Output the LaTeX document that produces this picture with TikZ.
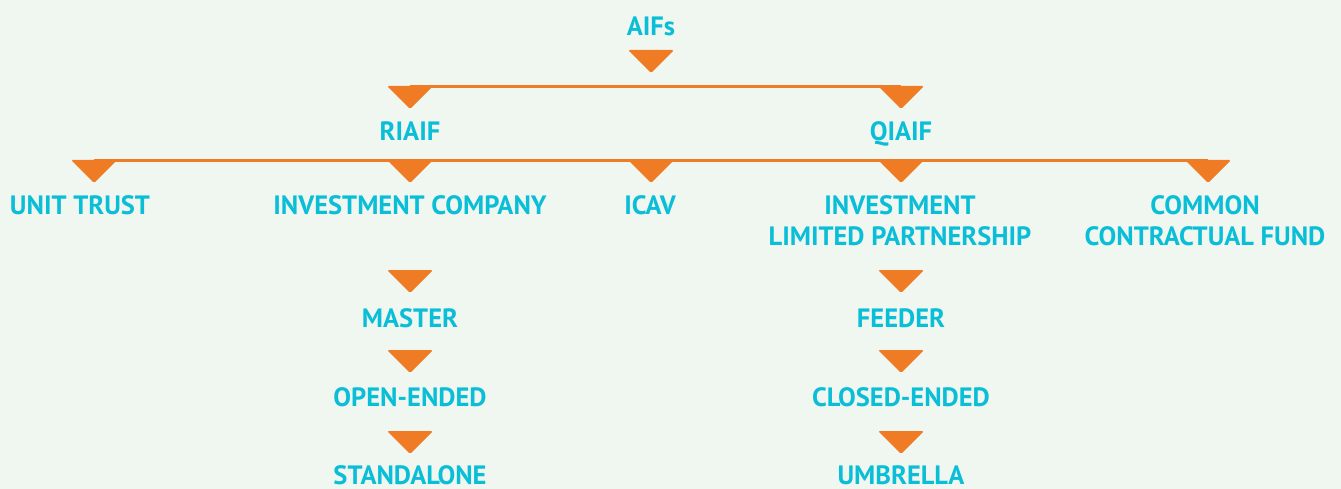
\documentclass[tikz,border=0pt]{standalone}
\usepackage{fontspec}
\setmainfont{PT Sans}
\definecolor{bgc}{HTML}{F0F7F1}
\definecolor{org}{HTML}{F07B25}
\definecolor{cyn}{HTML}{0BBED7}
\begin{document}
\begin{tikzpicture}[x=1pt,y=-1pt,
  lbl/.style={inner sep=0pt, text=cyn, font=\bfseries\fontsize{26.5}{31}\selectfont, align=center},
  conn/.style={draw=org, line width=3pt},
  tri/.style={fill=org, rounded corners=1.5pt}]
\fill[bgc] (0,0) rectangle (1341,489);
\useasboundingbox (0,0) rectangle (1341,489);
\newcommand\tri[2]{\fill[tri] (#1-23,#2) -- (#1+23,#2) -- (#1,#2+23) -- cycle;}
% labels
\node[lbl] (aifs) at (651,26) {AIFs};
\node[lbl] (riaif) at (410,131) {RIAIF};
\node[lbl, text depth=0pt] (qiaif) at (901,131) {QIAIF};
\node[lbl] (ut) at (80,205) {UNIT TRUST};
\node[lbl] (ic) at (410,205) {INVESTMENT COMPANY};
\node[lbl] (icav) at (650,205) {ICAV};
\node[lbl] (ilp) at (900,220.5) {INVESTMENT\\LIMITED PARTNERSHIP};
\node[lbl] (ccf) at (1205,220.5) {COMMON\\CONTRACTUAL FUND};
\node[lbl] (master) at (410,318) {MASTER};
\node[lbl] (open) at (410,397) {OPEN-ENDED};
\node[lbl] (stand) at (410,475.5) {STANDALONE};
\node[lbl] (feeder) at (901,318) {FEEDER};
\node[lbl] (closed) at (901,397) {CLOSED-ENDED};
\node[lbl] (umb) at (901,475.5) {UMBRELLA};
% connector lines
\coordinate (l1a) at (riaif.center |- 0,86.5);
\coordinate (l1b) at (qiaif.center |- 0,86.5);
\draw[conn] (l1a) -- (l1b);
\coordinate (l2a) at (94,160.5);
\coordinate (l2b) at (1208,160.5);
\draw[conn] (l2a) -- (l2b);
% triangles
\tri{651}{50}
\tri{410}{86}
\tri{901}{86}
\tri{94}{160}
\tri{410}{160}
\tri{651}{160}
\tri{901}{160}
\tri{1208}{160}
\tri{410}{270}
\tri{410}{350}
\tri{410}{431}
\tri{901}{270}
\tri{901}{350}
\tri{901}{431}
\end{tikzpicture}
\end{document}
